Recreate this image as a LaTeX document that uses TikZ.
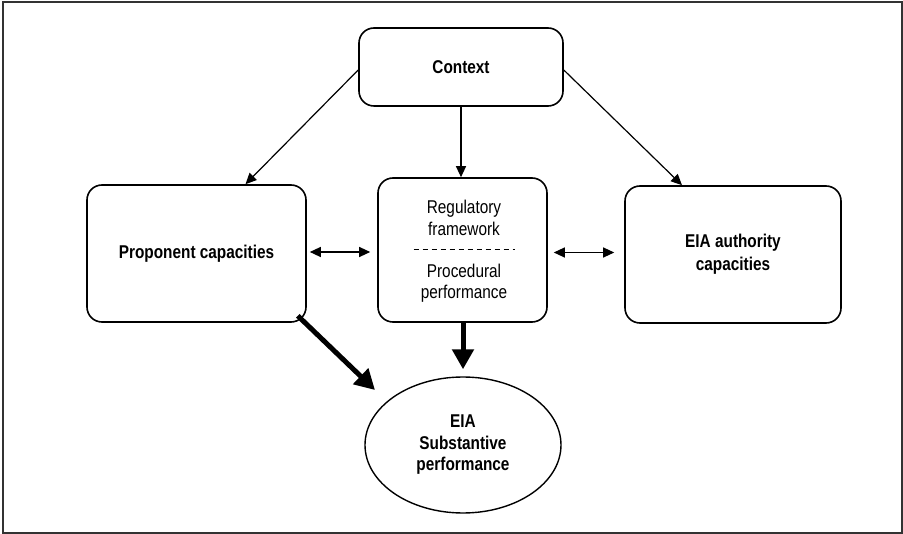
\documentclass[tikz,border=0pt]{standalone}
\usepackage{fontspec}
\setmainfont{Liberation Sans}[FakeStretch=0.83]
\usetikzlibrary{arrows.meta,shapes.geometric,calc}

\tikzset{
  boxstyle/.style={draw, line width=1.6pt, rounded corners=15pt, inner sep=0pt, align=center},
  ovalstyle/.style={draw, ellipse, line width=1.4pt, inner sep=0pt, align=center},
  thinarrow/.style={line width=1.2pt, -{Triangle[length=11pt,width=10pt]}},
  twoway/.style={line width=1.2pt, {Triangle[length=11pt,width=10pt]}-{Triangle[length=11pt,width=10pt]}},
  thickarrow/.style={line width=5pt, -{Triangle[length=20pt,width=21pt]}},
  labeltext/.style={font=\fontsize{18.5}{21.5}\selectfont, align=center, inner sep=0pt},
}

\begin{document}
\begin{tikzpicture}[x=1pt, y=-1pt]
  \useasboundingbox (0,0) rectangle (903,534);
  % outer frame
  \draw[line width=1.8pt, draw=black!80] (3,2) rectangle (902,533);

  % boxes
  \node[boxstyle, minimum width=204pt, minimum height=78pt, labeltext, font=\fontsize{18.5}{21.5}\selectfont\bfseries]
    (ctx) at (461,67) {Context};
  \node[boxstyle, minimum width=219pt, minimum height=137pt, labeltext, font=\fontsize{18.5}{21.5}\selectfont\bfseries]
    (prop) at (196.5,253.5) {Proponent capacities};
  \node[boxstyle, minimum width=169pt, minimum height=144pt] (mid) at (462.5,250) {};
  \node[boxstyle, minimum width=216pt, minimum height=137pt, labeltext, font=\fontsize{18.5}{23}\selectfont\bfseries]
    (auth) at (733,254.5) {EIA authority\\ capacities};
  \node[ovalstyle, minimum width=196pt, minimum height=136pt, labeltext, font=\fontsize{18.5}{21.5}\selectfont\bfseries]
    (eia) at (463,445) {EIA\\Substantive\\performance};

  % text inside the middle box, split by a dashed rule
  \node[labeltext] (regtext) at ($(mid.center)+(1.5,-32)$) {Regulatory\\framework};
  \node[labeltext] (proctext) at ($(mid.center)+(1.5,33)$) {Procedural\\performance};
  \draw[line width=1pt, dash pattern=on 5pt off 4pt]
    ($(mid.center)+(-49,0)$) -- ($(mid.center)+(52,0)$);

  % context influences
  \draw[thinarrow] ($(ctx.west)+(0,3)$) -- ($(prop.north)+(49,0)$);
  \draw[thinarrow] (ctx.south) -- (ctx.south |- mid.north);
  \draw[thinarrow] ($(ctx.east)+(0,3)$) -- ($(auth.north)+(-51,0)$);

  % two-way links
  \draw[twoway, shorten <=3pt, shorten >=7pt] ($(prop.east)+(0,-1.5)$) -- ($(mid.west |- prop.east)+(0,-1.5)$);
  \draw[twoway, shorten <=6pt, shorten >=10pt] ($(mid.east |- auth.west)+(0,-2)$) -- ($(auth.west)+(0,-2)$);

  % main effects on substantive performance
  \draw[thickarrow] ($(prop.south east)+(-9,-7)$) -- (375,390);
  \draw[thickarrow, shorten >=7pt] ($(mid.south)+(0.5,0)$) -- ($(mid.south |- eia.north)+(0.5,0)$);
\end{tikzpicture}
\end{document}
